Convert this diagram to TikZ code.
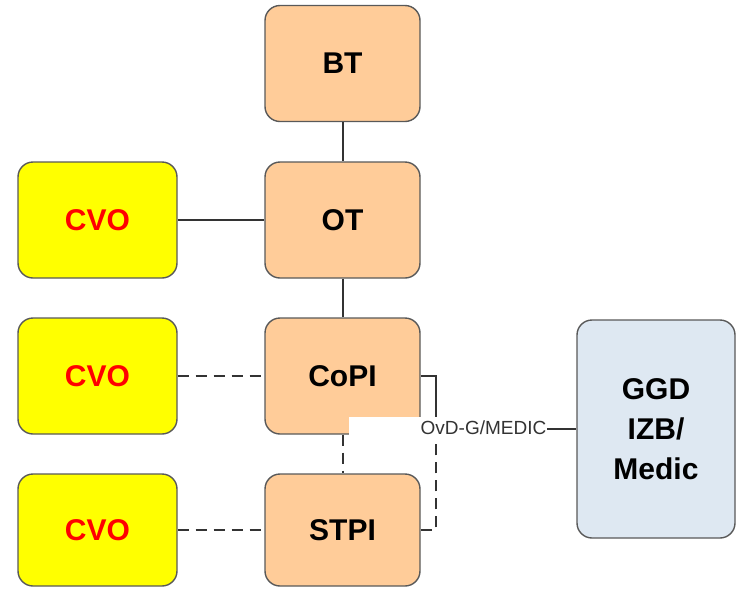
\documentclass[tikz,border=0pt]{standalone}
\usepackage{fontspec}
\setmainfont{Liberation Sans}
\begin{document}
\begin{tikzpicture}[x=1pt,y=-1pt,
  box/.style={draw=black!65, line width=1.4pt, rounded corners=15pt, align=center,
    font=\fontsize{30}{40}\selectfont\bfseries, inner sep=0pt},
  orange/.style={box, fill={rgb,255:red,255;green,204;blue,153}, minimum width=155, minimum height=116},
  cvo/.style={box, fill={rgb,255:red,255;green,255;blue,0}, text={rgb,255:red,255;green,0;blue,0}, minimum width=159, minimum height=116},
  blue/.style={box, fill={rgb,255:red,222;green,232;blue,242}, minimum width=158, minimum height=218},
  conn/.style={draw=black!80, line width=2pt},
  dconn/.style={conn, dash pattern=on 11pt off 7pt}
]
\useasboundingbox (0,0) rectangle (740,590);
\node[orange] (BT) at (342.5,63.5) {BT};
\node[orange] (OT) at (342.5,220) {OT};
\node[orange] (CoPI) at (342.5,376) {CoPI};
\node[orange, minimum height=112] (STPI) at (342.5,530) {STPI};
\node[cvo] (CVO1) at (97.5,220) {CVO};
\node[cvo] (CVO2) at (97.5,376) {CVO};
\node[cvo, minimum height=112] (CVO3) at (97.5,530) {CVO};
\node[blue] (GGD) at (656,429) {GGD\\IZB/\\Medic};
\coordinate (j) at (436,429);
\draw[conn] (BT) -- (OT);
\draw[conn] (CVO1) -- (OT);
\draw[conn] (OT) -- (CoPI);
\draw[dconn] (CVO2) -- (CoPI);
\draw[dconn] (CoPI) -- (STPI);
\draw[dconn] (CVO3) -- (STPI);
\draw[conn] (CoPI.east) -| (j) -- (GGD.west);
\draw[dconn] (STPI.east) -| (j);
\node[fill=white, inner sep=0pt, minimum width=198, minimum height=23] (lblbg) at (448,428.5) {};
\node[fill=white, inner sep=0.5pt, text=black!80, font=\fontsize{19}{20}\selectfont] (lbl) at (483.5,428) {OvD-G/MEDIC};
\end{tikzpicture}
\end{document}
